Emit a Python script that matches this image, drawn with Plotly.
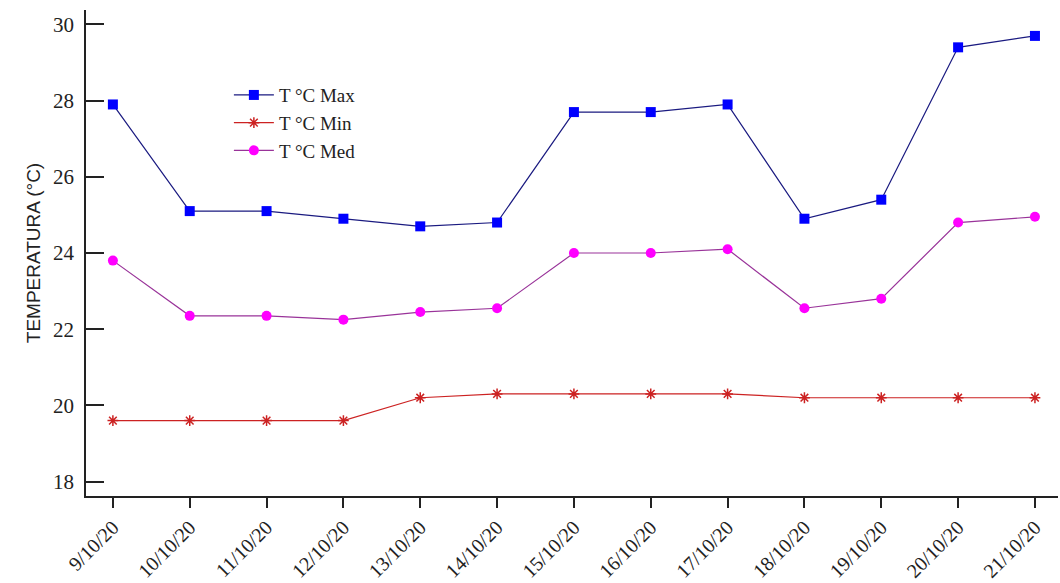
import plotly.graph_objects as go

dates = ["9/10/20", "10/10/20", "11/10/20", "12/10/20", "13/10/20", "14/10/20", "15/10/20",
         "16/10/20", "17/10/20", "18/10/20", "19/10/20", "20/10/20", "21/10/20"]
t_max = [27.9, 25.1, 25.1, 24.9, 24.7, 24.8, 27.7, 27.7, 27.9, 24.9, 25.4, 29.4, 29.7]
t_min = [19.6, 19.6, 19.6, 19.6, 20.2, 20.3, 20.3, 20.3, 20.3, 20.2, 20.2, 20.2, 20.2]
t_med = [23.8, 22.35, 22.35, 22.25, 22.45, 22.55, 24.0, 24.0, 24.1, 22.55, 22.8, 24.8, 24.95]
y_ticks = [18, 20, 22, 24, 26, 28, 30]

serif = "Liberation Serif, Times New Roman, serif"

fig = go.Figure()
fig.add_trace(go.Scatter(x=dates, y=t_max, name="T °C Max", mode="lines+markers",
                         line=dict(color="#1a1a80", width=1.2),
                         marker=dict(symbol="square", size=10, color="#0000ff")))
fig.add_trace(go.Scatter(x=dates, y=t_min, name="T °C Min", mode="lines+markers",
                         line=dict(color="#cc2222", width=1.2),
                         marker=dict(symbol="asterisk-open", size=9,
                                     line=dict(color="#dd1111", width=1.5))))
fig.add_trace(go.Scatter(x=dates, y=t_med, name="T °C Med", mode="lines+markers",
                         line=dict(color="#993399", width=1.2),
                         marker=dict(symbol="circle", size=10, color="#ff00ff")))

fig.update_layout(
    width=1060, height=583,
    margin=dict(l=86, r=2, t=10, b=87),
    paper_bgcolor="white", plot_bgcolor="white",
    font=dict(family=serif, color="#222222"),
    showlegend=True,
    legend=dict(x=0.147, y=0.864, xanchor="left", yanchor="top",
                font=dict(family=serif, size=19, color="#222222"),
                bgcolor="rgba(0,0,0,0)", tracegroupgap=0, itemwidth=40),
    xaxis=dict(type="category", range=[-0.35, 12.3], showgrid=False, zeroline=False,
               showline=True, linecolor="#222222", linewidth=1.5,
               ticks="outside", ticklen=10, tickcolor="#222222", tickwidth=1.5,
               tickangle=-45, tickfont=dict(family=serif, size=20, color="#222222")),
    yaxis=dict(range=[17.62, 30.38], tickvals=y_ticks, showgrid=False, zeroline=False,
               showline=True, linecolor="#222222", linewidth=1.5,
               ticks="inside", ticklen=18, tickcolor="#222222", tickwidth=1.5,
               ticklabelstandoff=6,
               tickfont=dict(family=serif, size=21, color="#222222"),
               title=dict(text="TEMPERATURA (°C)", standoff=7,
                          font=dict(family="Liberation Sans, Arial, sans-serif", size=19, color="#222222"))),
)

fig.write_html("out.html", config={"displayModeBar": False},
               post_script="document.body.style.margin='0';")
